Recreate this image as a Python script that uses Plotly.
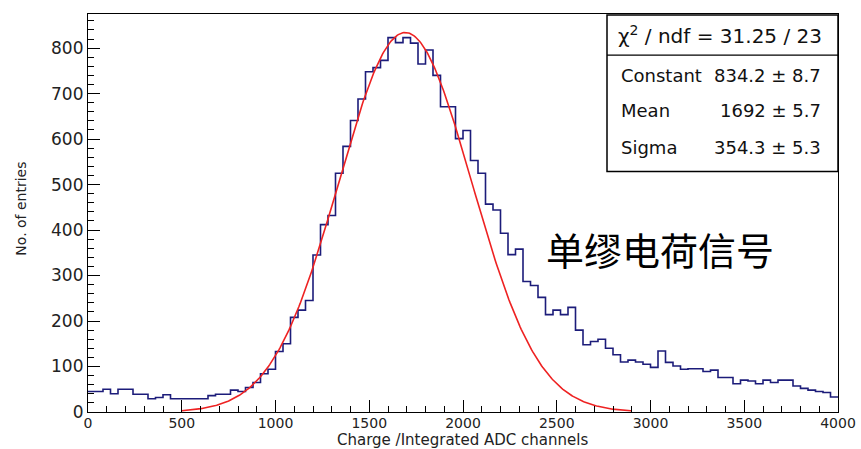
import numpy as np
import plotly.graph_objects as go

# ---- data ----
bin_width = 40
bin_edges = list(range(0, 4001, bin_width))
counts = [45, 45, 50, 40, 50, 50, 39, 39, 29, 32,
          38, 29, 29, 29, 29, 29, 36, 39, 39, 48,
          45, 54, 65, 84, 94, 133, 150, 208, 224, 245,
          345, 412, 432, 525, 584, 641, 688, 748, 757, 773,
          823, 812, 823, 811, 765, 796, 740, 671, 671, 601,
          619, 553, 525, 457, 444, 393, 346, 358, 287, 278,
          252, 214, 224, 214, 230, 180, 148, 155, 160, 140,
          126, 110, 114, 110, 105, 98, 134, 109, 101, 94,
          95, 95, 89, 92, 76, 76, 62, 70, 68, 62,
          70, 65, 70, 70, 57, 52, 48, 45, 43, 33]

fit_constant = 834.2
fit_mean = 1692
fit_sigma = 354.3
fit_range = [500, 2900]

x_ticks = [0, 500, 1000, 1500, 2000, 2500, 3000, 3500, 4000]
y_ticks = [0, 100, 200, 300, 400, 500, 600, 700, 800]

stats_rows = [("Constant", "834.2 \u00b1 8.7"),
              ("Mean", "1692 \u00b1 5.7"),
              ("Sigma", "354.3 \u00b1 5.3")]
chi2_text = "\u03c7<sup>2</sup> / ndf = 31.25 / 23"
note_text = "单缪电荷信号"
x_title = "Charge /Integrated ADC channels"
y_title = "No. of entries"

# ---- figure ----
fx = np.linspace(fit_range[0], fit_range[1], 400)
fy = fit_constant * np.exp(-0.5 * ((fx - fit_mean) / fit_sigma) ** 2)

fig = go.Figure()
fig.add_trace(go.Scatter(x=bin_edges, y=counts + [counts[-1]], mode="lines",
                         line=dict(shape="hv", color="#1c1c7a", width=1.6),
                         hoverinfo="skip", showlegend=False))
fig.add_trace(go.Scatter(x=fx, y=fy, mode="lines",
                         line=dict(color="#ee2222", width=1.6),
                         hoverinfo="skip", showlegend=False))

font_main = "DejaVu Sans, Arial, sans-serif"

fig.update_layout(
    width=861, height=449,
    margin=dict(l=88, r=23, t=14, b=37),
    paper_bgcolor="white", plot_bgcolor="white",
    showlegend=False,
    xaxis=dict(range=[0, 4000], tickvals=x_ticks, ticktext=[str(v) for v in x_ticks],
               ticks="inside", ticklen=12, tickwidth=1, tickcolor="black",
               minor=dict(dtick=100, ticks="inside", ticklen=6, tickcolor="black"),
               showline=True, linecolor="black", linewidth=1.2, mirror=True,
               showgrid=False, zeroline=False,
               tickfont=dict(family=font_main, size=14, color="#222"),
               automargin=False, ticklabelstandoff=-2),
    yaxis=dict(range=[0, 875], tickvals=y_ticks, ticktext=[str(v) for v in y_ticks],
               ticks="inside", ticklen=12, tickwidth=1, tickcolor="black",
               minor=dict(dtick=20, ticks="inside", ticklen=6, tickcolor="black"),
               showline=True, linecolor="black", linewidth=1.2, mirror=True,
               showgrid=False, zeroline=False,
               tickfont=dict(family=font_main, size=17, color="#222"),
               automargin=False),
)

# stats box
bx0, bx1, by0, by1, bdiv = 0.692, 1.0, 0.6045, 0.9975, 0.8967
fig.add_shape(type="rect", xref="paper", yref="paper", x0=bx0, x1=bx1, y0=by0, y1=by1,
              line=dict(color="black", width=1.5), fillcolor="white", layer="above")
fig.add_shape(type="line", xref="paper", yref="paper", x0=bx0, x1=bx1, y0=bdiv, y1=bdiv,
              line=dict(color="black", width=1.2))
stats_font = dict(family=font_main, size=18, color="#111")
fig.add_annotation(xref="paper", yref="paper", x=0.843, y=0.947, text=chi2_text,
                   showarrow=False, xanchor="center", yanchor="middle",
                   font=dict(family=font_main, size=20, color="#111"))
row_y = [0.846, 0.758, 0.665]
for (lab, val), yy in zip(stats_rows, row_y):
    fig.add_annotation(xref="paper", yref="paper", x=0.708, y=yy, text=lab,
                       showarrow=False, xanchor="left", yanchor="middle", font=stats_font)
    fig.add_annotation(xref="paper", yref="paper", x=0.98, y=yy, text=val,
                       showarrow=False, xanchor="right", yanchor="middle", font=stats_font)

# chinese note
fig.add_annotation(xref="paper", yref="paper", x=0.763, y=0.41, text=note_text,
                   showarrow=False, xanchor="center", yanchor="middle",
                   font=dict(family="Noto Sans CJK SC", size=38, color="black"))

# axis titles
fig.add_annotation(xref="paper", yref="paper", x=0.4987, y=-0.0957, text=x_title,
                   showarrow=False, xanchor="center", yanchor="bottom", borderpad=0,
                   font=dict(family=font_main, size=15, color="#222"))
fig.add_annotation(xref="paper", yref="paper", x=-0.0893, y=0.511, text=y_title,
                   showarrow=False, xanchor="center", yanchor="middle", textangle=-90,
                   font=dict(family=font_main, size=14, color="#222"))

fig.write_html("out.html")
